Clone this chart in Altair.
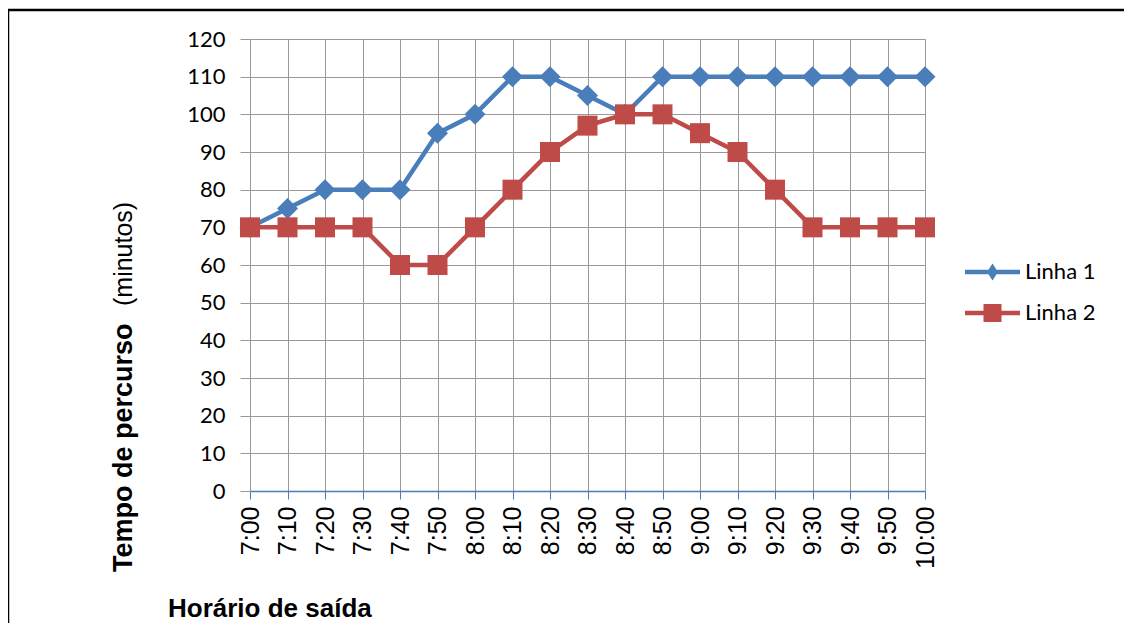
import altair as alt
import pandas as pd

times = ["7:00", "7:10", "7:20", "7:30", "7:40", "7:50", "8:00", "8:10", "8:20", "8:30",
         "8:40", "8:50", "9:00", "9:10", "9:20", "9:30", "9:40", "9:50", "10:00"]
linha1 = [70, 75, 80, 80, 80, 95, 100, 110, 110, 105, 100, 110, 110, 110, 110, 110, 110, 110, 110]
linha2 = [70, 70, 70, 70, 60, 60, 70, 80, 90, 97, 100, 100, 95, 90, 80, 70, 70, 70, 70]
series = ["Linha 1", "Linha 2"]
colors = ["#4A7EBB", "#BE4B48"]
y_ticks = list(range(0, 121, 10))
y_title_bold = "Tempo de percurso"
y_title_normal = "(minutos)"
x_title = "Horário de saída"

rows = []
for name, vals in zip(series, [linha1, linha2]):
    for t, v in zip(times, vals):
        rows.append({"time": t, "value": v, "series": name})
df = pd.DataFrame(rows)

# legend symbol paths (line with marker), normalized units
diamond_path = ("M-1.375,-0.11 L-0.2,-0.11 L0,-0.42 L0.2,-0.11 L1.375,-0.11 L1.375,0.11 "
                "L0.2,0.11 L0,0.42 L-0.2,0.11 L-1.375,0.11 Z")
square_path = ("M-1.375,-0.11 L-0.45,-0.11 L-0.45,-0.45 L0.45,-0.45 L0.45,-0.11 L1.375,-0.11 "
               "L1.375,0.11 L0.45,0.11 L0.45,0.45 L-0.45,0.45 L-0.45,0.11 L-1.375,0.11 Z")

x_enc = alt.X("time:O", sort=times, scale=alt.Scale(type="point", padding=0),
              axis=alt.Axis(labelAngle=270, labelFont="Liberation Sans", labelFontSize=25,
                            labelColor="black", labelPadding=7, tickSize=8,
                            tickColor="#4A7EBB", domainColor="#4A7EBB", domainWidth=1.5,
                            grid=True, gridColor="#999999", gridWidth=1, title=None))
y_enc = alt.Y("value:Q", scale=alt.Scale(domain=[0, 120], nice=False),
              axis=alt.Axis(values=y_ticks, grid=True, gridColor="#999999", gridWidth=1,
                            domain=False, tickColor="#999999", tickSize=10,
                            labelFont="Lato", labelFontSize=22, labelColor="black",
                            labelPadding=15, title=None))

base = alt.Chart(df)
layers = []
shapes = ["diamond", "square"]
sizes = [440, 400]
for i, name in enumerate(series):
    sub = base.transform_filter(alt.datum.series == name)
    layers.append(sub.mark_line(color=colors[i], strokeWidth=4.5).encode(x=x_enc, y=y_enc))
    layers.append(sub.mark_point(filled=True, shape=shapes[i], size=sizes[i], color=colors[i],
                                 opacity=1).encode(x=x_enc, y=y_enc))

leg = alt.Legend(orient="none", legendX=722.5, legendY=213, title=None, symbolSize=1600,
                 labelFont="Lato", labelFontSize=22, labelColor="black", labelOffset=12.5,
                 rowPadding=10, padding=0, symbolStrokeWidth=0)
legend_layer = base.mark_point(filled=True, opacity=1).encode(
    x=x_enc, y=y_enc,
    color=alt.Color("series:N", scale=alt.Scale(domain=series, range=colors), legend=leg),
    shape=alt.Shape("series:N", scale=alt.Scale(domain=series, range=[diamond_path, square_path]),
                    legend=leg),
).transform_filter("false")

one = pd.DataFrame({"k": [0]})
ytitle1 = alt.Chart(pd.DataFrame({"t": [y_title_bold]})).mark_text(
    angle=270, align="left", baseline="alphabetic", font="Liberation Sans", fontSize=27,
    fontWeight="bold", color="black").encode(text="t:N", x=alt.value(-118), y=alt.value(533))
ytitle2 = alt.Chart(pd.DataFrame({"t": [y_title_normal]})).mark_text(
    angle=270, align="left", baseline="alphabetic", font="Liberation Sans", fontSize=25,
    color="black").encode(text="t:N", x=alt.value(-118), y=alt.value(267))
xtitle = alt.Chart(pd.DataFrame({"t": [x_title]})).mark_text(
    align="left", baseline="alphabetic", font="Liberation Sans", fontSize=26,
    fontWeight="bold", color="black").encode(text="t:N", x=alt.value(-82), y=alt.value(578))

frame_top = alt.Chart(one).mark_rule(color="black", strokeWidth=2.5).encode(
    x=alt.value(-243), x2=alt.value(900), y=alt.value(-29))
frame_left = alt.Chart(one).mark_rule(color="black", strokeWidth=2.5).encode(
    x=alt.value(-242), y=alt.value(-30), y2=alt.value(700))

chart = alt.layer(*layers, legend_layer, ytitle1, ytitle2, xtitle, frame_top, frame_left).properties(
    width=675, height=452,
    autosize=alt.AutoSizeParams(type="none"),
    padding={"left": 242, "top": 31, "right": 199, "bottom": 132},
    background="white",
).configure_view(stroke=None)

chart.save("out.html", embed_options={"renderer": "svg", "actions": False})
